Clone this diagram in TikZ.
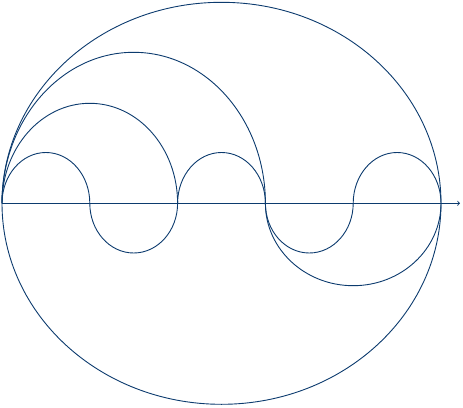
\documentclass[tikz,border=0pt]{standalone}
\usepackage{tikz}
\usetikzlibrary{arrows}
\usepackage{xcolor}
\definecolor{inkblue}{RGB}{12,59,110}

\begin{document}
\begin{tikzpicture}[x=1pt,y=1pt,line width=0.9pt,
	curve/.style={draw=inkblue},
	axisline/.style={draw=inkblue,->,>=to}]

\useasboundingbox (-2,-203.7) rectangle (461,203.3);

\foreach \i in {0,...,5}
	\coordinate (p\i) at (87.8*\i,0);
\coordinate (mid) at (219.5,0);
\coordinate (xend) at (458,0);

% outer ellipse
\draw[curve] (mid) ellipse [x radius=219.5, y radius=201];

% arcs above the axis
\draw[curve] (p0) arc[start angle=180, end angle=0, x radius=43.9, y radius=50.8];
\draw[curve] (p2) arc[start angle=180, end angle=0, x radius=43.9, y radius=50.8];
\draw[curve] (p4) arc[start angle=180, end angle=0, x radius=43.9, y radius=50.8];
\draw[curve] (p0) arc[start angle=180, end angle=0, x radius=87.8, y radius=100];
\draw[curve] (p0) arc[start angle=180, end angle=0, x radius=131.7, y radius=151];

% arcs below the axis
\draw[curve] (p1) arc[start angle=180, end angle=360, x radius=43.9, y radius=49.7];
\draw[curve] (p3) arc[start angle=180, end angle=360, x radius=43.9, y radius=49.7];
\draw[curve] (p3) arc[start angle=180, end angle=360, x radius=87.8, y radius=82.4];

\draw[axisline] (p0) -- (xend);
\end{tikzpicture}
\end{document}
